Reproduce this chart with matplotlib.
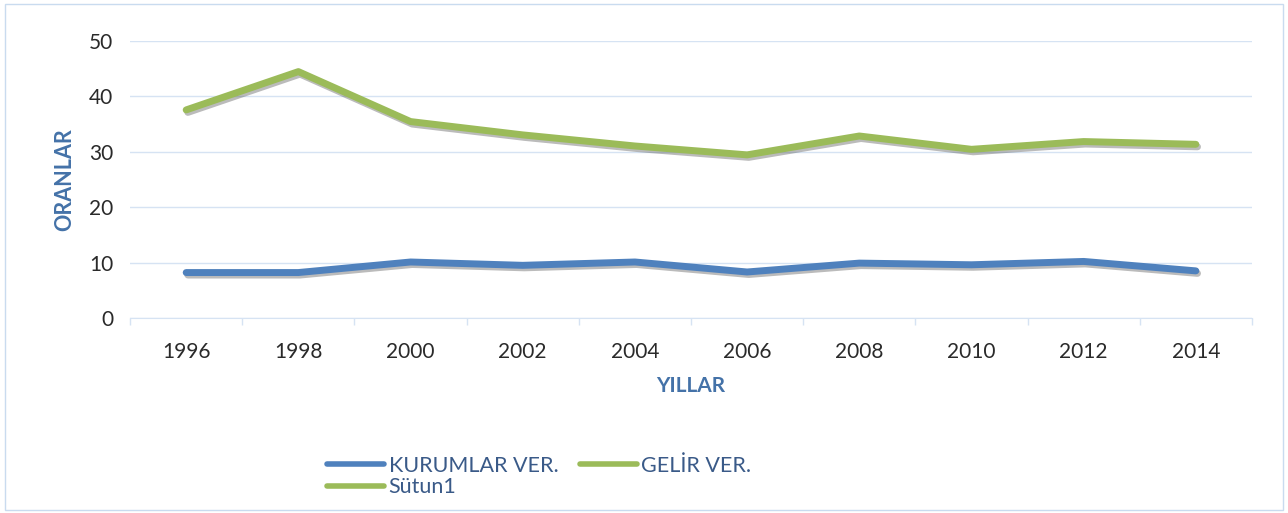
import matplotlib.pyplot as plt
import matplotlib.patheffects as pe
from matplotlib.patches import Rectangle

years = ["1996", "1998", "2000", "2002", "2004", "2006", "2008", "2010", "2012", "2014"]
kurumlar = [8.2, 8.2, 10.1, 9.5, 10.1, 8.3, 9.9, 9.6, 10.2, 8.5]
gelir = [37.5, 44.4, 35.4, 33.0, 31.0, 29.4, 32.8, 30.4, 31.8, 31.3]

blue = "#4f81bd"
green = "#9bbb59"
label_col = "#4472a8"
legend_col = "#3a5a88"
grid_col = "#d6e3f3"

plt.rcParams['font.family'] = ['Lato', 'DejaVu Sans']

fig = plt.figure(figsize=(12.88, 5.13), dpi=100)
ax = fig.add_axes([0.101, 0.380, 0.871, 0.541])

shadow = [pe.SimpleLineShadow(offset=(1.2, -1.8), shadow_color="#555555", alpha=0.4), pe.Normal()]
x = list(range(len(years)))
l1, = ax.plot(x, kurumlar, color=blue, lw=5, solid_capstyle="round", path_effects=shadow, label="KURUMLAR VER.")
l2, = ax.plot(x, gelir, color=green, lw=5, solid_capstyle="round", path_effects=shadow, label="GELİR VER.")
l3, = ax.plot([], [], color=green, lw=5, solid_capstyle="round", label="Sütun1")

ax.set_xlim(-0.5, len(years) - 0.5)
ax.set_ylim(0, 50)
ax.set_yticks(range(0, 51, 10))
ax.set_xticks(x)
ax.set_xticklabels(years)
ax.set_xticks([i + 0.5 for i in range(-1, len(years))], minor=True)
ax.tick_params(axis="both", which="major", length=0, labelsize=15, colors="#2a2a2a")
ax.tick_params(axis="x", which="minor", length=5, color=grid_col, width=1)
ax.tick_params(axis="x", which="major", pad=17)
ax.tick_params(axis="y", pad=12)
ax.grid(axis="y", color=grid_col, lw=1)
ax.set_axisbelow(True)
for s in ["top", "right", "left"]:
    ax.spines[s].set_visible(False)
ax.spines["bottom"].set_color(grid_col)

ax.set_ylabel("ORANLAR", fontsize=15.5, fontweight="bold", color=label_col, labelpad=10)
ax.set_xlabel("YILLAR", fontsize=15, fontweight="bold", color=label_col, labelpad=10)

leg = fig.legend(handles=[l1, l3, l2], ncol=2, loc="upper left", bbox_to_anchor=(0.254, 0.112),
                 frameon=False, fontsize=15.5, handlelength=2.65, handletextpad=0.2,
                 columnspacing=1.0, labelspacing=0.08, borderaxespad=0, borderpad=0)
for t in leg.get_texts():
    t.set_color(legend_col)
for h in leg.legend_handles:
    h.set_path_effects([])
    h.set_linewidth(4)

fig.patches.append(Rectangle((0.004, 0.006), 0.992, 0.986, transform=fig.transFigure,
                             fill=False, edgecolor="#c9dbef", lw=1))

fig.savefig("out.png", dpi=100)
